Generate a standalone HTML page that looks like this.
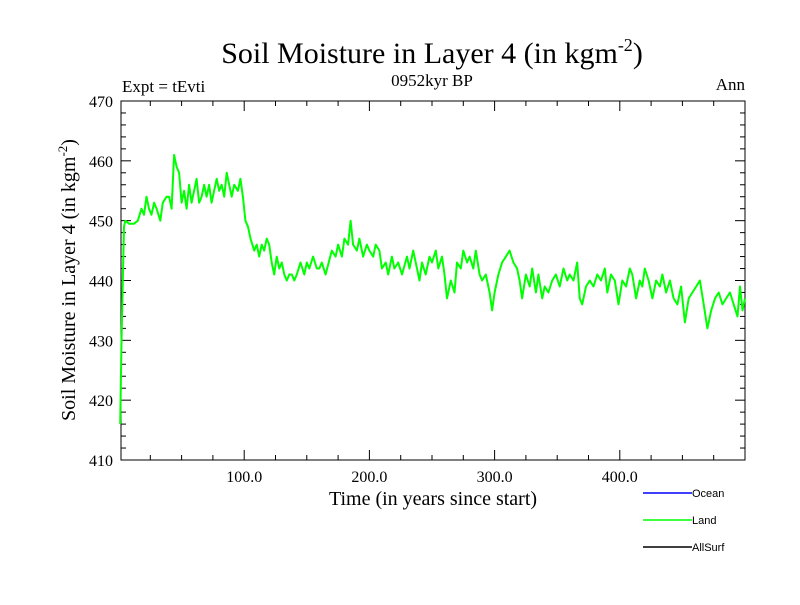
<!DOCTYPE html>
<html><head><meta charset="utf-8"><style>
body{margin:0;background:#fff;}
svg text{font-family:"Liberation Serif",serif;fill:#000;}
</style></head><body>
<svg id="chart" width="800" height="600" xmlns="http://www.w3.org/2000/svg">
<rect width="800" height="600" fill="#fff"/>
<text x="432" y="63" font-size="30" text-anchor="middle">Soil Moisture in Layer 4 (in kgm<tspan font-size="18" dy="-12">-2</tspan><tspan dy="12">)</tspan></text>
<text x="432" y="86" font-size="17" text-anchor="middle">0952kyr BP</text>
<text x="122" y="92" font-size="17">Expt = tEvti</text>
<text x="745" y="90" font-size="17" text-anchor="end">Ann</text>
<text x="433" y="505" font-size="20" text-anchor="middle">Time (in years since start)</text>
<text transform="translate(75,280) rotate(-90)" font-size="20" text-anchor="middle">Soil Moisture in Layer 4 (in kgm<tspan font-size="13" dy="-8">-2</tspan><tspan dy="8">)</tspan></text>
<g id="axes"></g>
<g id="series"></g>
<g id="legend"></g>
</svg>
<script>
const years=[1,2,3,4,5,8,12,15,18,20,22,24,26,28,30,33,35,38,40,42,44,46,48,50,52,54,56,58,60,62,64,66,68,70,72,74,76,78,80,82,84,86,88,90,92,95,97,99,101,103,105,108,110,112,114,116,118,120,122,124,126,128,130,132,134,136,138,140,142,145,148,150,152,155,158,160,162,165,170,173,175,178,180,183,185,187,190,192,195,198,200,203,205,208,210,213,215,218,220,223,226,230,232,235,238,240,242,245,248,250,253,255,258,260,262,265,268,270,273,275,278,280,283,285,288,290,293,296,298,300,303,306,309,312,315,318,320,322,325,328,330,333,335,338,340,343,346,349,352,355,358,360,363,366,368,370,373,376,379,382,385,388,390,393,396,399,402,405,408,410,413,416,418,420,423,426,429,432,434,437,440,443,446,449,452,455,458,461,464,467,470,473,476,479,482,485,488,491,494,496,498,500];
const landValues=[416,430,440,449,450,449.5,449.5,450,452,451,454,452,451,453,452,450,453,454,454,452,461,459,458,453,455,452,456,453,455,457,453,454,456,454,456,453,455,457,455,456,454,458,456,454,456,455,457,454,450,449,447,445,446,444,446,445,447,446,443,441,444,442,443,441,440,441,441,440,441,443,441,443,442,444,442,442,443,441,445,444,446,444,447,446,450,446,445,447,444,446,445,444,446,445,442,443,441,444,442,443,441,444,442,445,442,440,443,441,444,443,445,442,444,441,437,440,438,443,442,445,443,444,442,445,441,440,441,438,435,438,441,443,444,445,443,442,440,437,441,439,442,438,441,437,439,438,440,441,439,442,440,441,440,443,437,436,439,440,439,441,440,442,438,441,440,436,440,439,442,441,437,440,439,442,440,437,440,439,441,438,440,437,436,439,433,437,438,439,440,436,432,435,437,438,436,437,438,436,434,439,435,437];
const yTicks=[410,420,430,440,450,460,470];
const xTicks=[100,200,300,400];
const xTickLabels=["100.0","200.0","300.0","400.0"];
const legendNames=["Ocean","Land","AllSurf"];
const legendColors=["#0000ff","#00ff00","#000000"];

const L=121,R=745,T=101,B=460;
const xMin=0,xMax=500,yMin=410,yMax=470;
const xs=v=>L+(v-1.6)/(xMax-1.6)*(R-L);
const ys=v=>B-(v-yMin)/(yMax-yMin)*(B-T);
const NS="http://www.w3.org/2000/svg";
function mk(tag,attrs,parent){const e=document.createElementNS(NS,tag);for(const k in attrs)e.setAttribute(k,attrs[k]);parent.appendChild(e);return e;}
const axes=document.getElementById('axes');
const frame=mk('rect',{x:L,y:T,width:R-L,height:B-T,fill:'none',stroke:'#000','stroke-width':1},axes);


for(let v=yMin;v<=yMax;v+=2){
  const y=ys(v);const len=(v%10===0)?10:5;
  mk('line',{x1:L,x2:L+len,y1:y,y2:y,stroke:'#000'},axes);
  mk('line',{x1:R,x2:R-len,y1:y,y2:y,stroke:'#000'},axes);
}
yTicks.forEach(v=>{
  const t=mk('text',{x:L-8,y:ys(v)+6,'font-size':16,'text-anchor':'end'},axes);
  t.textContent=v;
  
  
});
for(let v=25;v<500;v+=25){
  const x=xs(v);const len=(v%100===0)?10:5;
  mk('line',{x1:x,x2:x,y1:B,y2:B-len,stroke:'#000'},axes);
  mk('line',{x1:x,x2:x,y1:T,y2:T+len,stroke:'#000'},axes);
}
xTicks.forEach((v,i)=>{
  const t=mk('text',{x:xs(v),y:B+22,'font-size':16,'text-anchor':'middle'},axes);
  t.textContent=xTickLabels[i];
  
  
});
const series=document.getElementById('series');
const pts=years.map((y,i)=>xs(y).toFixed(1)+','+ys(landValues[i]).toFixed(1)).join(' ');
const line=mk('polyline',{points:pts,fill:'none',stroke:'#00ff00','stroke-width':2,'stroke-linejoin':'round'},series);


const legend=document.getElementById('legend');
legendNames.forEach((n,i)=>{
  const y=493+i*27;
  const g=mk('g',{},legend);
  
  
  mk('line',{x1:643,x2:692,y1:y,y2:y,stroke:legendColors[i],'stroke-width':1.5},g);
  const t=mk('text',{x:692,y:y+4,'font-size':11},g);
  t.setAttribute('style','font-family:"Liberation Sans",sans-serif');
  t.textContent=n;
});
</script>
</body></html>
